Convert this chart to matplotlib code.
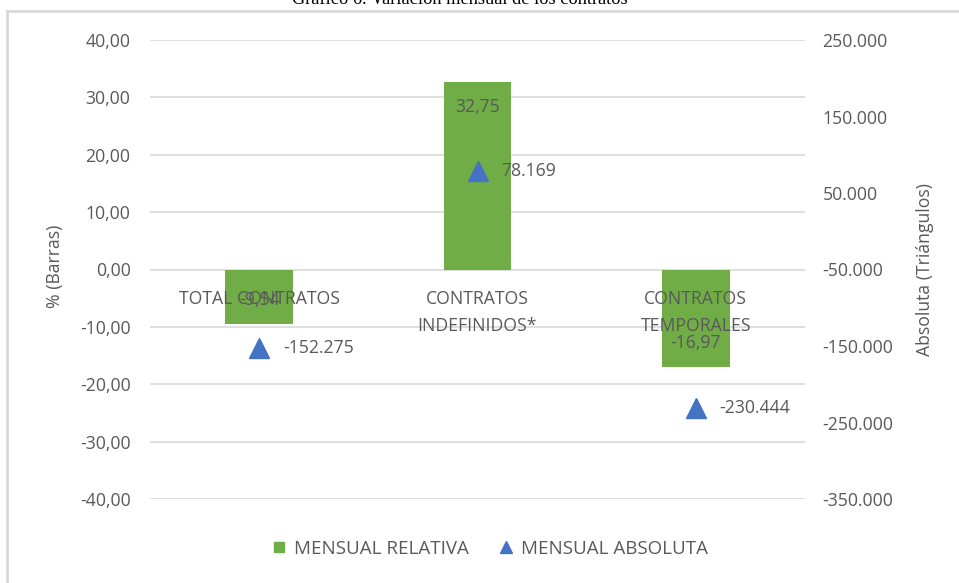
import matplotlib
matplotlib.use("Agg")
import matplotlib.pyplot as plt
from matplotlib.lines import Line2D
from matplotlib.ticker import FuncFormatter, FixedLocator

categories = ["TOTAL CONTRATOS", "CONTRATOS\nINDEFINIDOS*", "CONTRATOS\nTEMPORALES"]
relativa = [-9.54, 32.75, -16.97]
absoluta = [-152275, 78169, -230444]
left_ticks = [-40, -30, -20, -10, 0, 10, 20, 30, 40]
right_ticks = [-350000, -250000, -150000, -50000, 50000, 150000, 250000]

title = "Gráfico 6. Variación mensual de los contratos"
GREEN = "#70ad47"
BLUE = "#4472c4"
TXT = "#595959"
GRID = "#d9d9d9"
FS = 12.7

plt.rcParams['font.family'] = ['Open Sans', 'DejaVu Sans']

W, H = 959, 583
fig = plt.figure(figsize=(W / 100, H / 100), dpi=100)

def fx(px):
    return px / W

def fy(py):
    return 1 - py / H

ax = fig.add_axes([fx(150), fy(499), fx(805) - fx(150), fy(40) - fy(499)])
ax2 = ax.twinx()

x = list(range(len(categories)))
bars = ax.bar(x, relativa, width=0.31, color=GREEN, zorder=2)
ax.set_xlim(-0.5, len(categories) - 0.5)
ax.set_ylim(-40, 40)
ax.yaxis.set_major_locator(FixedLocator(left_ticks))
ax.yaxis.set_major_formatter(FuncFormatter(lambda v, p: f"{v:.2f}".replace(".", ",")))
ax.grid(axis='y', color=GRID, linewidth=1.2)
ax.set_axisbelow(True)
ax.xaxis.set_zorder(4)
for s in ax.spines.values():
    s.set_visible(False)
ax.spines['bottom'].set_position(('data', 0))
ax.set_xticks(x)
ax.set_xticklabels(categories, linespacing=1.65)
ax.tick_params(axis='x', length=0, pad=14.5, labelsize=FS, labelcolor=TXT)
ax.tick_params(axis='y', length=0, pad=14, labelsize=FS, labelcolor=TXT)

for xi, v in zip(x, relativa):
    off = -18.5 if v > 0 else 17.5
    ax.annotate(f"{v:.2f}".replace(".", ","), (xi, v), xytext=(0, off),
                textcoords='offset points', ha='center', va='center',
                fontsize=FS, color=TXT, zorder=5)

ax2.plot(x, absoluta, linestyle='none', marker='^', markersize=15, color=BLUE, zorder=3)
ax2.set_ylim(-350000, 250000)
ax2.yaxis.set_major_locator(FixedLocator(right_ticks))
ax2.yaxis.set_major_formatter(FuncFormatter(lambda v, p: f"{int(v):,}".replace(",", ".")))
ax2.tick_params(axis='y', length=0, pad=12.5, labelsize=FS, labelcolor=TXT)
for s in ax2.spines.values():
    s.set_visible(False)
for xi, v in zip(x, absoluta):
    ax2.annotate(f"{v:,}".replace(",", "."), (xi, v), xytext=(17, 0),
                 textcoords='offset points', ha='left', va='center',
                 fontsize=FS, color=TXT)

fig.text(fx(55), fy(266), "% (Barras)", rotation=90, ha='center', va='center',
         fontsize=FS, color=TXT)
fig.text(fx(925), fy(270), "Absoluta (Triángulos)", rotation=90, ha='center', va='center',
         fontsize=FS, color=TXT)

fig.text(fx(460), fy(4.5), title, ha='center', va='baseline',
         fontsize=13.2, family='Liberation Serif', color='black')

fig.add_artist(Line2D([fx(7), fx(7)], [fy(11), 0], color=GRID, linewidth=2))
fig.add_artist(Line2D([fx(7), 1], [fy(11), fy(11)], color=GRID, linewidth=2))

handles = [Line2D([], [], linestyle='none', marker='s', markersize=7, color=GREEN),
           Line2D([], [], linestyle='none', marker='^', markersize=8, color=BLUE)]
fig.legend(handles, ["MENSUAL RELATIVA", "MENSUAL ABSOLUTA"], loc='center',
           bbox_to_anchor=(fx(490), fy(549)), ncol=2, frameon=False,
           fontsize=13.5, labelcolor=TXT, handlelength=0.8, handletextpad=0.4,
           columnspacing=1.6)

fig.savefig("out.png", dpi=100)
